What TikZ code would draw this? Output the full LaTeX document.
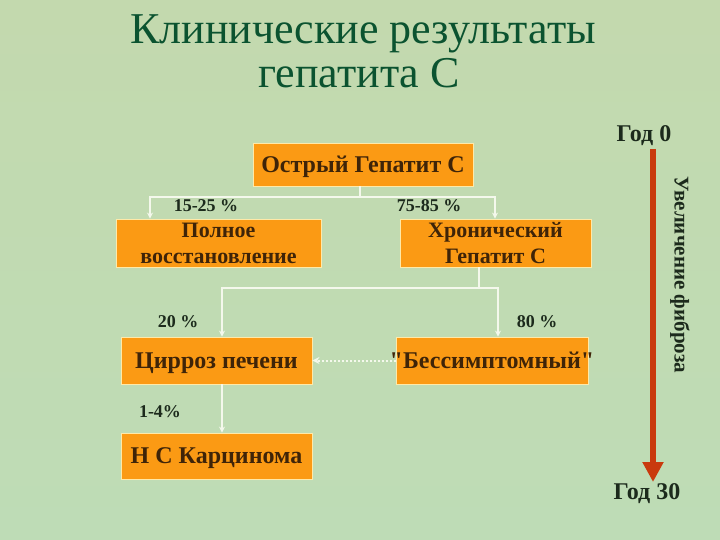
\documentclass[tikz,border=0pt]{standalone}
\usepackage{fontspec}
\setmainfont{Liberation Serif}
\newfontfamily\qfont[Ligatures=TeXOff]{Liberation Serif}
\usetikzlibrary{arrows.meta}
\definecolor{bgA}{HTML}{C3D9AE}
\definecolor{bgB}{HTML}{B5D7C1}
\definecolor{bgC}{HTML}{BEDCB6}
\definecolor{boxfill}{HTML}{FB9A14}
\definecolor{boxline}{HTML}{FFE9A8}
\definecolor{boxtext}{HTML}{3F2408}
\definecolor{titlegreen}{HTML}{0B5330}
\definecolor{lbl}{HTML}{1C2A1C}
\definecolor{conncol}{HTML}{F4F8EC}
\definecolor{redarrow}{HTML}{C93A0E}
\newcommand{\sq}{{\qfont\bfseries\symbol{34}}}
\tikzset{
  box/.style={draw=boxline, line width=0.9pt, fill=boxfill, inner sep=0pt,
    text=boxtext, font=\bfseries\fontsize{24}{26}\selectfont, align=center,
    text height=15.5pt, text depth=0pt},
  twobox/.style={box, font=\bfseries\fontsize{22}{26}\selectfont,
    text height=41pt, text depth=0pt},
  lab/.style={text=lbl, font=\bfseries\fontsize{18}{20}\selectfont, inner sep=0pt},
  yearlab/.style={text=lbl, font=\bfseries\fontsize{24}{26}\selectfont, inner sep=0pt},
  conn/.style={draw=conncol, line width=1.4pt},
  tip/.style={-{Stealth[length=6pt,width=6pt]}},
  dotconn/.style={draw=conncol, line width=2pt, dotted, -{Stealth[length=7pt,width=7pt]}},
}
\begin{document}
\begin{tikzpicture}[x=1pt,y=-1pt]
\useasboundingbox (0,0) rectangle (720,540);
% background
\shade[top color=bgA, middle color=bgB, bottom color=bgC] (0,0) rectangle (720,540);
% title
\node[text=titlegreen, font=\fontsize{44}{44}\selectfont, anchor=base, inner sep=0pt] (t1) at (363,44) {Клинические результаты};
\node[text=titlegreen, font=\fontsize{44}{44}\selectfont, anchor=base, inner sep=0pt] (t2) at (359,88) {гепатита С};
% boxes
\node[box, minimum width=220pt, minimum height=43pt] (acute) at (363,164.5) {Острый Гепатит С};
\node[twobox, minimum width=205pt, minimum height=48pt] (recov) at (218.5,243) {Полное\\восстановление};
\node[twobox, minimum width=191pt, minimum height=48pt] (chron) at (495.5,243) {Хронический\\Гепатит С};
\node[box, minimum width=191pt, minimum height=47pt] (cirr) at (216.5,360.5) {Цирроз печени};
\node[box, minimum width=192pt, minimum height=47pt, inner xsep=-8pt] (asym) at (492,360.5) {\sq Бессимптомный\sq};
\node[box, minimum width=191pt, minimum height=46pt] (hcc) at (216.5,456) {Н С Карцинома};
% connectors
\coordinate (a1) at (360,197);
\coordinate (aL) at (150,197);
\coordinate (aR) at (495,197);
\draw[conn] (acute.south -| a1) -- (a1);
\draw[conn, tip] (a1) -- (aL) -- (recov.north -| aL);
\draw[conn, tip] (a1) -- (aR) -- (chron.north -| aR);
\coordinate (b1) at (479,288);
\coordinate (bL) at (222,288);
\coordinate (bR) at (498,288);
\draw[conn] (chron.south -| b1) -- (b1);
\draw[conn, tip] (b1) -- (bL) -- (cirr.north -| bL);
\draw[conn, tip] (b1) -- (bR) -- (asym.north -| bR);
\draw[dotconn] (asym.west) -- (cirr.east);
\draw[conn, tip] (cirr.south -| bL) -- (hcc.north -| bL);
% labels
\node[lab] (l1) at (206,206) {15-25 \%};
\node[lab] (l2) at (429,206) {75-85 \%};
\node[lab] (l3) at (178,322) {20 \%};
\node[lab] (l4) at (537,322) {80 \%};
\node[lab] (l5) at (160,412) {1-4\%};
% time axis
\node[yearlab] (y0) at (644,136) {Год 0};
\coordinate (rt) at (653,149);
\coordinate (rb) at (653,482);
\draw[redarrow, line width=6pt, -{Triangle[length=20pt,width=20pt]}] (rt) -- (rb);
\node[yearlab] (y30) at (647,494) {Год 30};
\node[text=lbl, font=\bfseries\fontsize{21}{23}\selectfont, inner sep=0pt, rotate=-90] (fib) at (680,275) {Увеличение фиброза};
\end{tikzpicture}
\end{document}
